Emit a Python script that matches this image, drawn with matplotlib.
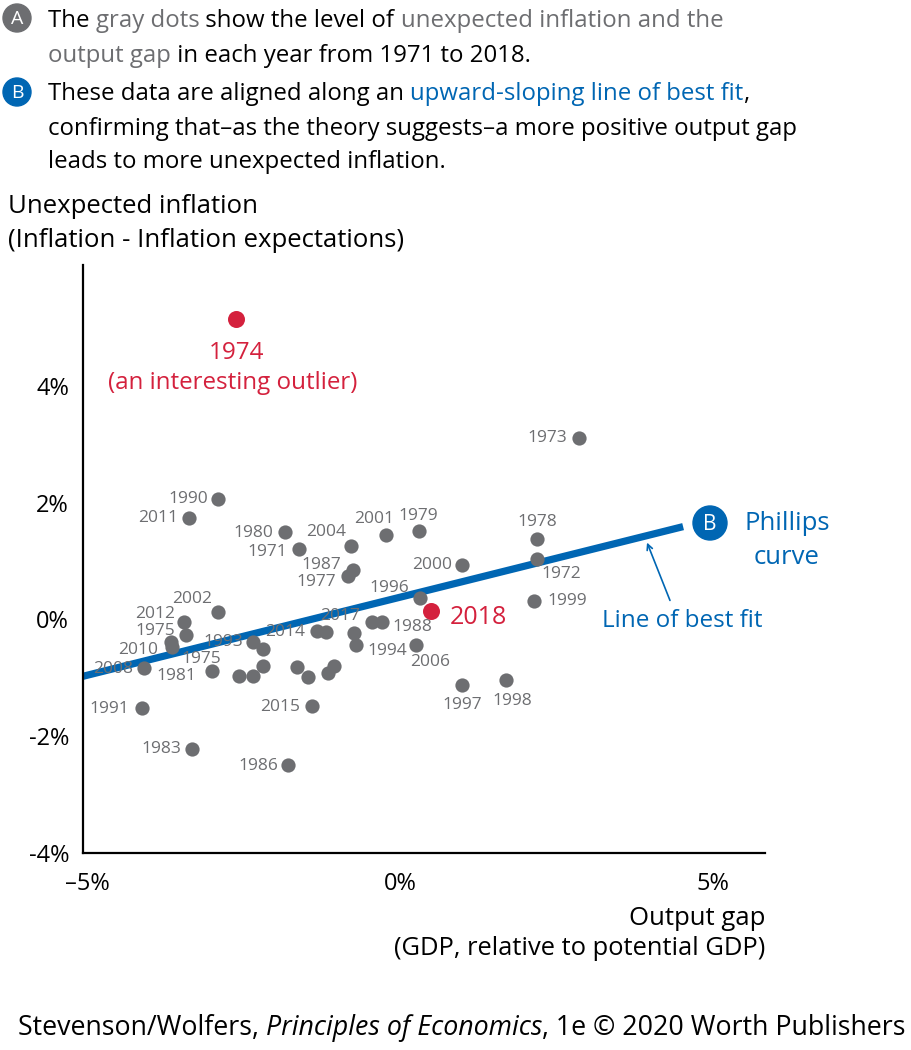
import numpy as np
import matplotlib
matplotlib.use("Agg")
import matplotlib.pyplot as plt
from matplotlib.patches import Circle

# output gap (%), unexpected inflation (%)
gap = [-2.62, 2.86, -2.91, -3.38, -1.84, -1.62, -0.78, -0.22, 0.30, -0.75,
       -0.83, 0.99, 2.19, 2.19, 2.14, 0.32, 0.50, -0.45, -0.29, -1.33,
       -1.18, -0.74, -0.70, 0.26, -2.91, -3.46, -3.42, -3.66, -3.65, -4.10,
       -3.01, -2.35, -2.19, -2.58, -2.35, -2.19, -1.65, -1.47, -1.15, -1.06,
       -4.13, -1.41, -3.33, -1.79, 0.99, 1.70]
surprise = [5.15, 3.11, 2.07, 1.73, 1.49, 1.20, 1.26, 1.44, 1.52, 0.85,
            0.74, 0.94, 1.38, 1.03, 0.32, 0.36, 0.15, -0.05, -0.05, -0.19,
            -0.22, -0.24, -0.44, -0.43, 0.12, -0.05, -0.27, -0.38, -0.48, -0.84,
            -0.89, -0.39, -0.51, -0.97, -0.97, -0.80, -0.82, -0.99, -0.91, -0.79,
            -1.52, -1.49, -2.22, -2.50, -1.13, -1.04]
red_idx = [0, 16]  # 1974, 2018

# year label -> which dot
label_years = ["1973", "1990", "2011", "1980", "1971", "2004", "2001", "1979",
               "1987", "1977", "2000", "1978", "1972", "1999", "1996", "2017",
               "1988", "2014", "1994", "2006", "2002", "2012", "1975", "2010",
               "2008", "1975", "1981", "1993", "1991", "2015", "1983", "1986",
               "1997", "1998"]
label_dot = [1, 2, 3, 4, 5, 6, 7, 8, 9, 10, 11, 12, 13, 14, 15, 17, 18, 19,
             23, 23, 24, 25, 26, 27, 29, 30, 30, 31, 40, 41, 42, 43, 44, 45]
# label offsets in pixels (x right, y up)
label_off = [(-31, 0), (-30, 0), (-31, 0), (-32, -1), (-31, -3), (-25, 14),
             (-12, 16), (0, 15), (-32, 5), (-32, -6), (-30, 0), (0, 17),
             (24, -15), (34, 0), (-31, 10), (-32, 6), (31, -5), (-32, -1),
             (-29, -6), (14, -17), (-26, 13), (-29, 8), (-31, 4), (-33, -8),
             (-31, -1), (-10, 12), (-35, -5), (-30, 0), (-32, -1), (-32, -1),
             (-30, 0), (-30, -1), (0, -20), (6, -21)]

fit_slope = 0.267
fit_intercept = 0.38
fit_x = [-5.07, 4.53]

GRAY = "#6d6e71"
RED = "#d4213d"
BLUE = "#0066b3"

FONT = ["Open Sans", "DejaVu Sans"]
plt.rcParams["font.family"] = FONT

W, H = 912, 1050
fig = plt.figure(figsize=(W / 100, H / 100), dpi=100)
ax = fig.add_axes([83 / W, 1 - 853 / H, (765 - 83) / W, (853 - 265) / H])

ax.set_xlim(-5.07, 5.84)
ax.set_ylim(-4, 6.07)
for s in ["top", "right"]:
    ax.spines[s].set_visible(False)
for s in ["left", "bottom"]:
    ax.spines[s].set_linewidth(1.6)
ax.set_xticks([-5, 0, 5])
ax.set_xticklabels(["\u20135%", "0%", "5%"])
ax.set_yticks([-4, -2, 0, 2, 4])
ax.set_yticklabels(["-4%", "-2%", "0%", "2%", "4%"])
ax.tick_params(length=0, labelsize=17, pad=10)
ax.tick_params(axis="x", pad=14)
ax.get_xticklabels()[0].set_x(-5.12)

fx = np.array(fit_x)
ax.plot(fx, fit_intercept + fit_slope * fx, color=BLUE, lw=5.2,
        solid_capstyle="butt", zorder=2)

gx = np.array(gap)
gy = np.array(surprise)
gray_mask = np.ones(len(gx), bool)
gray_mask[red_idx] = False
ax.scatter(gx[gray_mask], gy[gray_mask], s=105, color=GRAY, lw=0, zorder=3)
ax.scatter(gx[red_idx], gy[red_idx], s=150, color=RED, lw=0, zorder=3)

for yr, i, (dx, dy) in zip(label_years, label_dot, label_off):
    ax.annotate(yr, (gx[i], gy[i]), xytext=(dx, dy), textcoords="offset pixels",
                ha="center", va="center", color=GRAY, fontsize=12.5, zorder=2.5)

ax.annotate("1974", (gx[0], gy[0]), xytext=(0, -34), textcoords="offset pixels",
            ha="center", va="center", color=RED, fontsize=17.5)
ax.annotate("(an interesting outlier)", (gx[0], gy[0]), xytext=(-3, -64),
            textcoords="offset pixels", ha="center", va="center", color=RED,
            fontsize=17.4)
ax.annotate("2018", (gx[16], gy[16]), xytext=(19, -7), textcoords="offset pixels",
            ha="left", va="center", color=RED, fontsize=18)

# line of best fit callout
ax.annotate("", xy=(646, H - 540), xytext=(671, H - 603),
            xycoords="figure pixels", textcoords="figure pixels",
            arrowprops=dict(arrowstyle="->", color=BLUE, lw=1.2))
fig.text(682 / W, 1 - 621 / H, "Line of best fit", color=BLUE, fontsize=17.5,
         ha="center", va="center")


def badge(cx, cy, r, letter, col, size):
    fig.patches.append(Circle((cx / 100, (H - cy) / 100), r / 100, color=col,
                              transform=fig.dpi_scale_trans, figure=fig))
    fig.text(cx / W, 1 - (cy + 1) / H, letter, color="white", fontsize=size,
             ha="center", va="center")


badge(710, 523, 17, "B", BLUE, 15)
fig.text(745 / W, 1 - 523 / H, "Phillips", color=BLUE, fontsize=18.5, ha="left",
         va="center")
fig.text(787 / W, 1 - 557 / H, "curve", color=BLUE, fontsize=18.5, ha="center",
         va="center")

# axis titles
fig.text(8 / W, 1 - 213 / H, "Unexpected inflation", fontsize=18.5, va="baseline")
fig.text(8 / W, 1 - 247 / H, "(Inflation - Inflation expectations)", fontsize=18.5,
         va="baseline")
fig.text(765 / W, 1 - 925 / H, "Output gap", fontsize=18.5, ha="right",
         va="baseline")
fig.text(765 / W, 1 - 955 / H, "(GDP, relative to potential GDP)", fontsize=18.4,
         ha="right", va="baseline")

renderer = fig.canvas.get_renderer()


def run_text(x, base, pieces, size):
    # draw coloured pieces one after another on a baseline
    for txt, col, style in pieces:
        t = fig.text(x / W, 1 - base / H, txt, color=col, fontsize=size,
                     style=style, va="baseline")
        x += t.get_window_extent(renderer).width


hsize = 17.3
run_text(48, 27, [("The ", "black", "normal"), ("gray dots", GRAY, "normal"),
                  (" show the level of ", "black", "normal"),
                  ("unexpected inflation and the", GRAY, "normal")], hsize)
run_text(48, 62, [("output gap", GRAY, "normal"),
                  (" in each year from 1971 to 2018.", "black", "normal")], hsize)
run_text(48, 100, [("These data are aligned along an ", "black", "normal"),
                   ("upward-sloping line of best fit", BLUE, "normal"),
                   (",", "black", "normal")], hsize)
run_text(48, 135, [("confirming that\u2013as the theory suggests\u2013a more positive output gap",
                    "black", "normal")], hsize)
run_text(48, 168, [("leads to more unexpected inflation.", "black", "normal")], hsize)

badge(17, 18, 14, "A", GRAY, 14)
badge(17, 92, 14, "B", BLUE, 14)

run_text(18, 1035, [("Stevenson/Wolfers, ", "black", "normal"),
                    ("Principles of Economics", "black", "italic"),
                    (", 1e \u00a9 2020 Worth Publishers", "black", "normal")],
         19.3)

fig.savefig("out.png", dpi=100)
